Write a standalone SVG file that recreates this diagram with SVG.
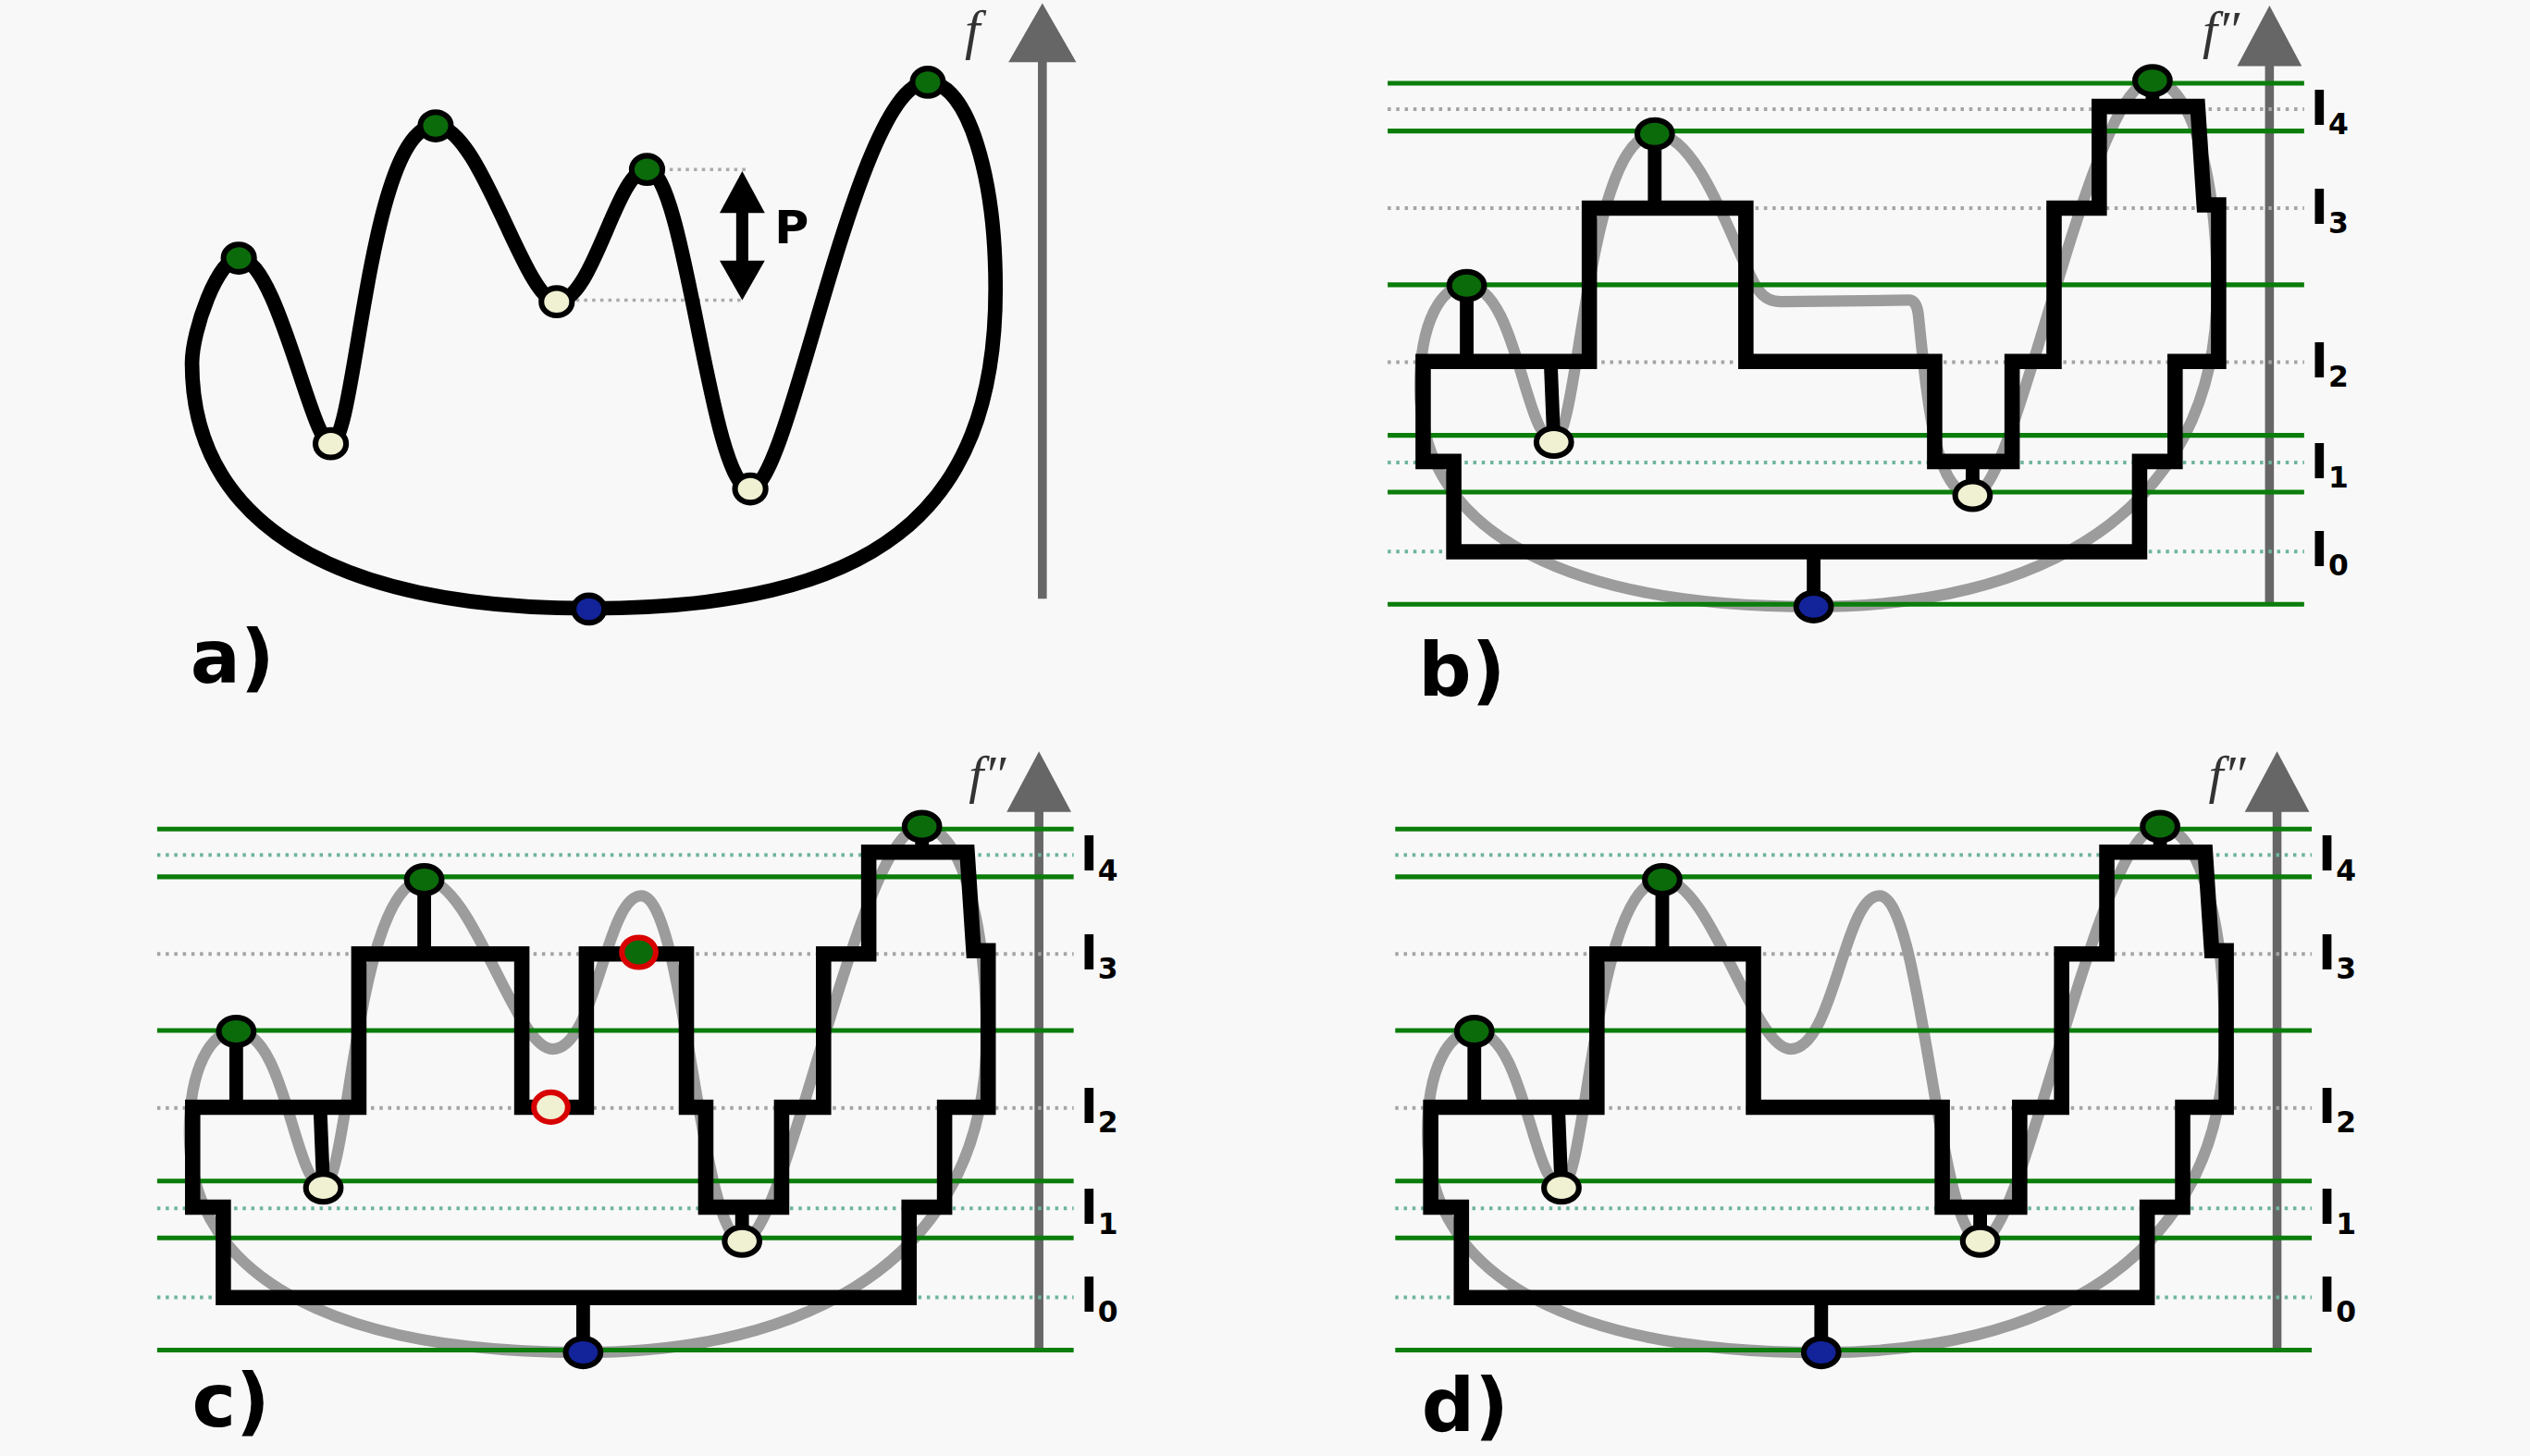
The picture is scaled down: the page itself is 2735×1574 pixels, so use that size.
<svg xmlns="http://www.w3.org/2000/svg" width="2735" height="1574" viewBox="0 0 2735 1574">
<defs>
<style>
.bg{fill:#f8f8f8}
.curveA{fill:none;stroke:#000;stroke-width:9;stroke-linejoin:round}
.gray{fill:none;stroke:#9c9c9c;stroke-width:7;stroke-linejoin:round}
.step{fill:none;stroke:#000;stroke-width:9.5;stroke-linejoin:miter;stroke-miterlimit:10}
.stem{stroke:#000;stroke-width:8.5}
.gl{stroke:#0a7d0a;stroke-width:2.9}
.dg{stroke:#a4a4a4;stroke-width:2.3;stroke-dasharray:2 3.3}
.dt{stroke:#6fb59a;stroke-width:2.3;stroke-dasharray:2 3.3}
.axis{stroke:#666;stroke-width:5.5}
.axh{fill:#666}
.g{fill:#0b6b0b;stroke:#000;stroke-width:3.5}
.c{fill:#f0f0d2;stroke:#000;stroke-width:3.5}
.b{fill:#13239a;stroke:#000;stroke-width:3.5}
.rg{fill:#0b6b0b;stroke:#d80000;stroke-width:3.5}
.rc{fill:#f0f0d2;stroke:#d80000;stroke-width:3.5}
.lab{font-family:"DejaVu Sans","Liberation Sans",sans-serif;font-weight:bold;fill:#000}
.fx{font-family:"Liberation Serif","DejaVu Serif",serif;font-style:italic;fill:#333}
.pd{stroke:#aaa;stroke-width:2;stroke-dasharray:2 3}
</style>
</defs>
<rect class="bg" x="0" y="0" width="2735" height="1574"/>
<g transform="scale(1.7443)">

<g id="panel-a">
  <g id="axis-a">
    <line class="axis" x1="646" y1="371" x2="646" y2="36"/>
    <polygon class="axh" points="625,38.5 667,38.5 646,2"/>
    <text class="fx" x="598" y="30" font-size="34">f</text>
  </g>
  <g id="connectors-a">
    <line class="pd" x1="410" y1="105" x2="462" y2="105"/>
    <line class="pd" x1="352" y1="186" x2="462" y2="186"/>
    <path class="curveA" d="M148,160 C172,160 193,275 205,275 C221,275 228,78 270,78 C298,78 325,187 345,187 C368,187 382,105 401,105 C425,105 440,303 465,303 C490,303 530,51 575,51 C600,51 617,110 617,179 C617,320 540,377 365,377 C200,377 119,320 119,225 C119,205 135,160 148,160 Z"/>
    <g id="p-arrow">
      <line x1="460" y1="128" x2="460" y2="165" stroke="#000" stroke-width="7.5"/>
      <polygon points="446,132 474,132 460,106" fill="#000"/>
      <polygon points="446,161.5 474,161.5 460,186" fill="#000"/>
    </g>
    <text class="lab" x="480" y="151" font-size="29">P</text>
  </g>
  <g id="nodes-a">
    <ellipse id="a-max1" class="g" cx="148" cy="160" rx="9.5" ry="8.5"/>
    <ellipse id="a-max2" class="g" cx="270" cy="78" rx="9.5" ry="8.5"/>
    <ellipse id="a-max3" class="g" cx="401" cy="105" rx="9.5" ry="8.5"/>
    <ellipse id="a-max4" class="g" cx="575" cy="51" rx="9.5" ry="8.5"/>
    <ellipse id="a-min1" class="c" cx="205" cy="275" rx="9.5" ry="8.5"/>
    <ellipse id="a-min2" class="c" cx="345" cy="187" rx="9.5" ry="8.5"/>
    <ellipse id="a-min3" class="c" cx="465" cy="303" rx="9.5" ry="8.5"/>
    <ellipse id="a-glob" class="b" cx="365" cy="377.5" rx="9.5" ry="8.5"/>
  </g>
  <text class="lab" x="118" y="423" font-size="46">a)</text>
</g>

<g id="panel-b">
  <g id="axis-b">
    <line class="axis" x1="1406.5" y1="375" x2="1406.5" y2="39"/>
    <polygon class="axh" points="1386.5,41 1426.5,41 1406.5,3.5"/>
    <text class="fx" x="1365" y="30" font-size="33">f″</text>
  </g>
  <g id="levels-b">
    <line class="dg" x1="860" y1="67.7" x2="1428" y2="67.7"/>
    <line class="dg" x1="860" y1="129" x2="1428" y2="129"/>
    <line class="dg" x1="860" y1="224.5" x2="1428" y2="224.5"/>
    <line class="dt" x1="860" y1="286.7" x2="1428" y2="286.7"/>
    <line class="dt" x1="860" y1="341.8" x2="1428" y2="341.8"/>
    <path class="gray" d="M909,177 C940,177 945,273 963,273 C979,273 983,83 1026,83 C1055,83 1078,165 1090,180 Q1095,187 1104,187 L1183,186 Q1188,186 1189,196 C1195,255 1200,307 1223,307 C1250,307 1295,50 1334,50 C1358,50 1374,110 1374,180 C1374,320 1260,376 1124,376 C980,376 880,335 880,240 C880,200 893,177 909,177 Z"/>
    <line class="gl" x1="860" y1="51.6" x2="1428" y2="51.6"/>
    <line class="gl" x1="860" y1="81.2" x2="1428" y2="81.2"/>
    <line class="gl" x1="860" y1="176.5" x2="1428" y2="176.5"/>
    <line class="gl" x1="860" y1="269.8" x2="1428" y2="269.8"/>
    <line class="gl" x1="860" y1="305" x2="1428" y2="305"/>
    <line class="gl" x1="860" y1="374.5" x2="1428" y2="374.5"/>
  </g>
  <g id="labels-b" class="lab" font-size="29.5">
    <text x="1432" y="77.5">I<tspan font-size="18" dy="5.8">4</tspan></text>
    <text x="1432" y="138.5">I<tspan font-size="18" dy="5.8">3</tspan></text>
    <text x="1432" y="234">I<tspan font-size="18" dy="5.8">2</tspan></text>
    <text x="1432" y="296.5">I<tspan font-size="18" dy="5.8">1</tspan></text>
    <text x="1432" y="351">I<tspan font-size="18" dy="5.8">0</tspan></text>
  </g>
  <g id="connectors-b">
    <path class="step" d="M882,224 H985 V129 H1082 V224 H1199 V286 H1247 V224 H1273 V129 H1301 V66 H1362 L1366,127 H1375 V224 H1348 V286 H1326 V342 H901 V286 H882 Z"/>
    <line class="stem" x1="909" y1="177" x2="909" y2="224"/>
    <line class="stem" x1="963" y1="274" x2="961" y2="224"/>
    <line class="stem" x1="1025.5" y1="83" x2="1025.5" y2="129"/>
    <line class="stem" x1="1222.5" y1="307" x2="1222.5" y2="286"/>
    <line class="stem" x1="1124" y1="376" x2="1124" y2="342"/>
    <line class="stem" x1="1334" y1="50" x2="1334" y2="66"/>
  </g>
  <g id="nodes-b">
    <ellipse id="b-max1" class="g" cx="909" cy="177" rx="10.8" ry="8.6"/>
    <ellipse id="b-max2" class="g" cx="1025.5" cy="83" rx="10.8" ry="8.6"/>
    <ellipse id="b-max4" class="g" cx="1334" cy="50" rx="10.8" ry="8.6"/>
    <ellipse id="b-min1" class="c" cx="963" cy="274" rx="10.8" ry="8.6"/>
    <ellipse id="b-min3" class="c" cx="1222.5" cy="307" rx="10.8" ry="8.6"/>
    <ellipse id="b-glob" class="b" cx="1124" cy="376" rx="10.8" ry="8.6"/>
  </g>
  <text class="lab" x="879" y="431" font-size="46">b)</text>
</g>

<g id="panel-c">
  <g transform="translate(-762.6,462.2)">
    <g id="axis-c">
      <line class="axis" x1="1406.5" y1="375" x2="1406.5" y2="39"/>
      <polygon class="axh" points="1386.5,41 1426.5,41 1406.5,3.5"/>
      <text class="fx" x="1363" y="29" font-size="33">f″</text>
    </g>
    <g id="levels-c">
      <line class="dt" x1="860" y1="67.7" x2="1428" y2="67.7"/>
      <line class="dg" x1="860" y1="129" x2="1428" y2="129"/>
      <line class="dg" x1="860" y1="224.5" x2="1428" y2="224.5"/>
      <line class="dt" x1="860" y1="286.7" x2="1428" y2="286.7"/>
      <line class="dt" x1="860" y1="341.8" x2="1428" y2="341.8"/>
      <path class="gray" d="M909,177 C940,177 945,273 963,273 C979,273 983,83 1026,83 C1055,83 1082,188 1105,188 C1132,188 1138,93 1160,93 C1187,93 1196,307 1223,307 C1250,307 1295,50 1334,50 C1358,50 1374,110 1374,180 C1374,320 1260,376 1124,376 C980,376 880,335 880,240 C880,200 893,177 909,177 Z"/>
      <line class="gl" x1="860" y1="51.6" x2="1428" y2="51.6"/>
      <line class="gl" x1="860" y1="81.2" x2="1428" y2="81.2"/>
      <line class="gl" x1="860" y1="176.5" x2="1428" y2="176.5"/>
      <line class="gl" x1="860" y1="269.8" x2="1428" y2="269.8"/>
      <line class="gl" x1="860" y1="305" x2="1428" y2="305"/>
      <line class="gl" x1="860" y1="374.5" x2="1428" y2="374.5"/>
    </g>
    <g id="labels-c" class="lab" font-size="29.5">
      <text x="1432" y="77.5">I<tspan font-size="18" dy="5.8">4</tspan></text>
      <text x="1432" y="138.5">I<tspan font-size="18" dy="5.8">3</tspan></text>
      <text x="1432" y="234">I<tspan font-size="18" dy="5.8">2</tspan></text>
      <text x="1432" y="296.5">I<tspan font-size="18" dy="5.8">1</tspan></text>
      <text x="1432" y="351">I<tspan font-size="18" dy="5.8">0</tspan></text>
    </g>
    <g id="connectors-c">
      <path class="step" d="M882,224 H985 V129 H1086 V224 H1126 V129 H1188 V224 H1200 V286 H1247 V224 H1273 V129 H1301 V66 H1362 L1366,127 H1375 V224 H1348 V286 H1326 V342 H901 V286 H882 Z"/>
      <line class="stem" x1="909" y1="177" x2="909" y2="224"/>
      <line class="stem" x1="963" y1="274" x2="961" y2="224"/>
      <line class="stem" x1="1025.5" y1="83" x2="1025.5" y2="129"/>
      <line class="stem" x1="1222.5" y1="307" x2="1222.5" y2="286"/>
      <line class="stem" x1="1124" y1="376" x2="1124" y2="342"/>
      <line class="stem" x1="1334" y1="50" x2="1334" y2="66"/>
    </g>
    <g id="nodes-c">
      <ellipse id="c-max1" class="g" cx="909" cy="177" rx="10.8" ry="8.6"/>
      <ellipse id="c-max2" class="g" cx="1025.5" cy="83" rx="10.8" ry="8.6"/>
      <ellipse id="c-max4" class="g" cx="1334" cy="50" rx="10.8" ry="8.6"/>
      <ellipse id="c-min1" class="c" cx="963" cy="274" rx="10.8" ry="8.6"/>
      <ellipse id="c-min3" class="c" cx="1222.5" cy="307" rx="10.8" ry="8.6"/>
      <ellipse id="c-glob" class="b" cx="1124" cy="376" rx="10.8" ry="8.6"/>
      <ellipse id="c-newmin" class="rc" cx="1104" cy="224" rx="10.5" ry="9.2"/>
      <ellipse id="c-newmax" class="rg" cx="1158.5" cy="128" rx="10.5" ry="9.2"/>
    </g>
  </g>
  <text class="lab" x="119" y="884" font-size="46">c)</text>
</g>

<g id="panel-d">
  <g transform="translate(4.7,462.2)">
    <g id="axis-d">
      <line class="axis" x1="1406.5" y1="375" x2="1406.5" y2="39"/>
      <polygon class="axh" points="1386.5,41 1426.5,41 1406.5,3.5"/>
      <text class="fx" x="1364" y="29" font-size="33">f″</text>
    </g>
    <g id="levels-d">
      <line class="dt" x1="860" y1="67.7" x2="1428" y2="67.7"/>
      <line class="dg" x1="860" y1="129" x2="1428" y2="129"/>
      <line class="dg" x1="860" y1="224.5" x2="1428" y2="224.5"/>
      <line class="dt" x1="860" y1="286.7" x2="1428" y2="286.7"/>
      <line class="dt" x1="860" y1="341.8" x2="1428" y2="341.8"/>
      <path class="gray" d="M909,177 C940,177 945,273 963,273 C979,273 983,83 1026,83 C1055,83 1082,188 1105,188 C1132,188 1138,93 1160,93 C1187,93 1196,307 1223,307 C1250,307 1295,50 1334,50 C1358,50 1374,110 1374,180 C1374,320 1260,376 1124,376 C980,376 880,335 880,240 C880,200 893,177 909,177 Z"/>
      <line class="gl" x1="860" y1="51.6" x2="1428" y2="51.6"/>
      <line class="gl" x1="860" y1="81.2" x2="1428" y2="81.2"/>
      <line class="gl" x1="860" y1="176.5" x2="1428" y2="176.5"/>
      <line class="gl" x1="860" y1="269.8" x2="1428" y2="269.8"/>
      <line class="gl" x1="860" y1="305" x2="1428" y2="305"/>
      <line class="gl" x1="860" y1="374.5" x2="1428" y2="374.5"/>
    </g>
    <g id="labels-d" class="lab" font-size="29.5">
      <text x="1432" y="77.5">I<tspan font-size="18" dy="5.8">4</tspan></text>
      <text x="1432" y="138.5">I<tspan font-size="18" dy="5.8">3</tspan></text>
      <text x="1432" y="234">I<tspan font-size="18" dy="5.8">2</tspan></text>
      <text x="1432" y="296.5">I<tspan font-size="18" dy="5.8">1</tspan></text>
      <text x="1432" y="351">I<tspan font-size="18" dy="5.8">0</tspan></text>
    </g>
    <g id="connectors-d">
      <path class="step" d="M882,224 H985 V129 H1082 V224 H1199 V286 H1247 V224 H1273 V129 H1301 V66 H1362 L1366,127 H1375 V224 H1348 V286 H1326 V342 H901 V286 H882 Z"/>
      <line class="stem" x1="909" y1="177" x2="909" y2="224"/>
      <line class="stem" x1="963" y1="274" x2="961" y2="224"/>
      <line class="stem" x1="1025.5" y1="83" x2="1025.5" y2="129"/>
      <line class="stem" x1="1222.5" y1="307" x2="1222.5" y2="286"/>
      <line class="stem" x1="1124" y1="376" x2="1124" y2="342"/>
      <line class="stem" x1="1334" y1="50" x2="1334" y2="66"/>
    </g>
    <g id="nodes-d">
      <ellipse id="d-max1" class="g" cx="909" cy="177" rx="10.8" ry="8.6"/>
      <ellipse id="d-max2" class="g" cx="1025.5" cy="83" rx="10.8" ry="8.6"/>
      <ellipse id="d-max4" class="g" cx="1334" cy="50" rx="10.8" ry="8.6"/>
      <ellipse id="d-min1" class="c" cx="963" cy="274" rx="10.8" ry="8.6"/>
      <ellipse id="d-min3" class="c" cx="1222.5" cy="307" rx="10.8" ry="8.6"/>
      <ellipse id="d-glob" class="b" cx="1124" cy="376" rx="10.8" ry="8.6"/>
    </g>
  </g>
  <text class="lab" x="881" y="887" font-size="46">d)</text>
</g>

</g>
</svg>
